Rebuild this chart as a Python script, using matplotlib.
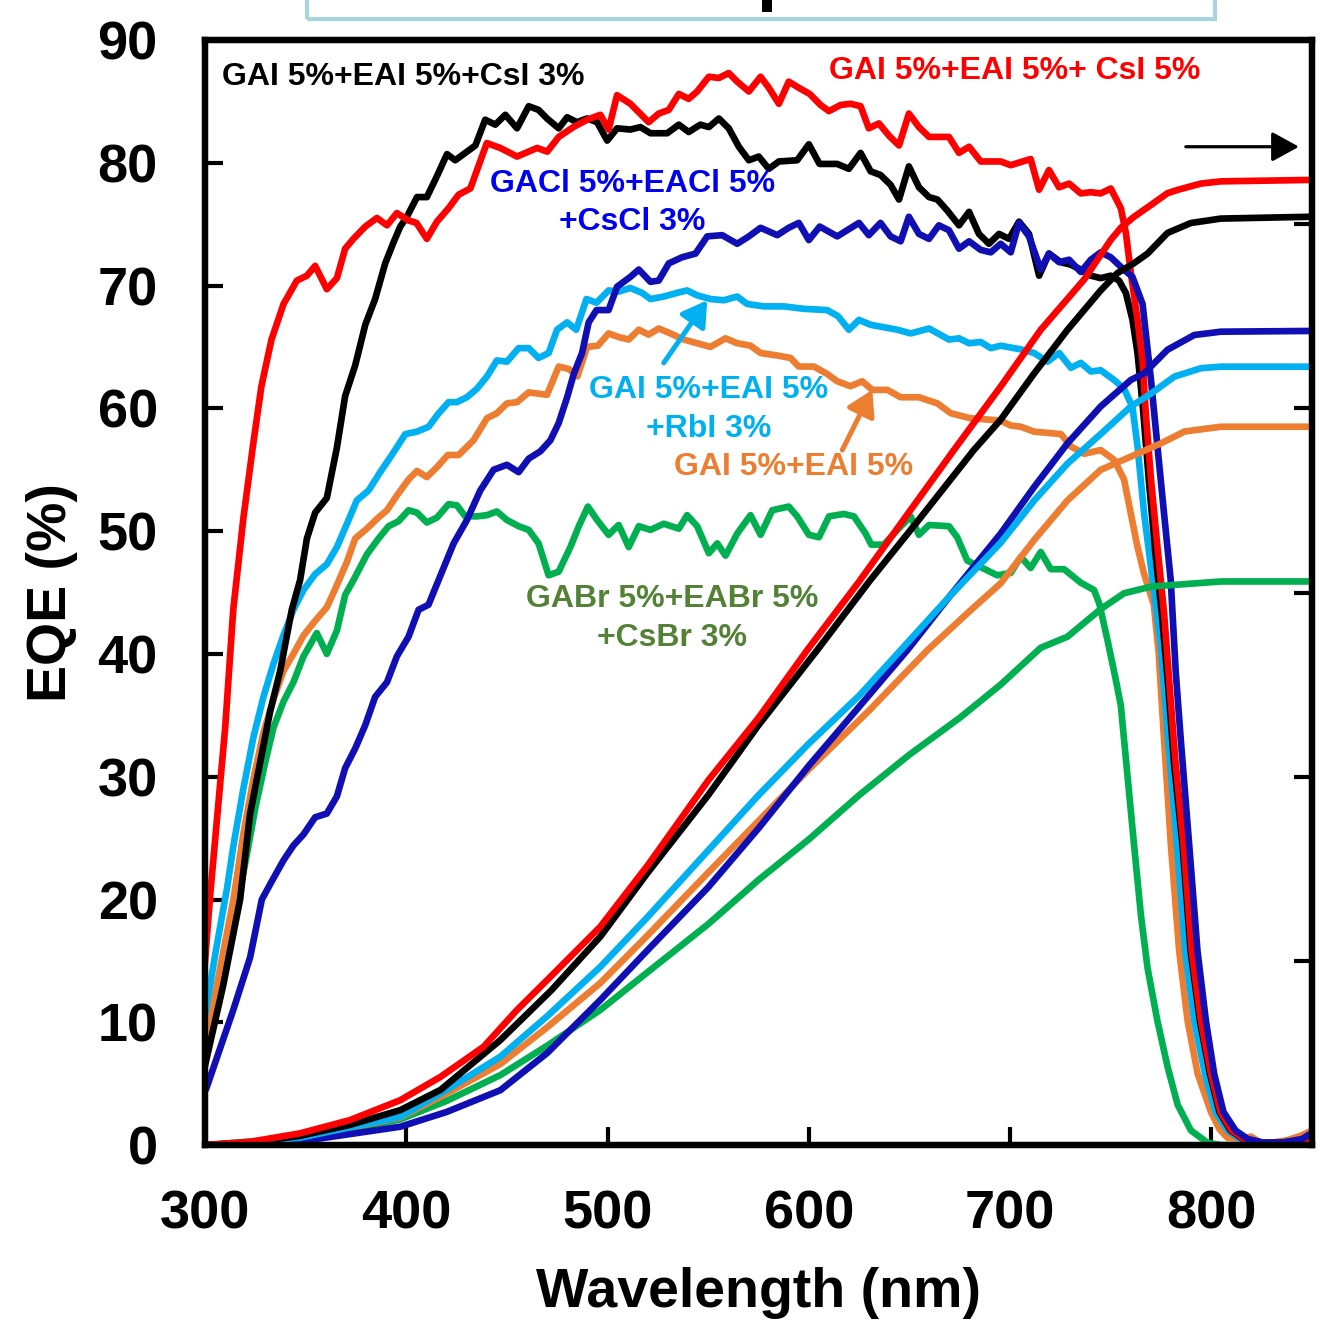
import matplotlib
matplotlib.use('Agg')
import matplotlib.pyplot as plt
from matplotlib.patches import Rectangle

plt.rcParams['font.family'] = ['Liberation Sans', 'DejaVu Sans']
plt.rcParams['font.weight'] = 'bold'

# ---------------- EQE data (wavelength nm, EQE %) ----------------
wl_red = [300, 302.5, 310, 314, 319, 324, 328, 333, 339, 345.6, 350.6, 354.7, 360.5, 365.5, 369.6, 373.7,
          379.6, 385.4, 390.4, 395.3, 401, 405, 410.2, 415.2, 421, 426, 431.8, 440, 446.7, 455, 465, 470,
          475.7, 483, 489.8, 496.4, 500.5, 504.7, 511.3, 520.4, 525.4, 530.4, 535.4, 540.3, 544.5, 550.3,
          555.3, 560.2, 564.4, 570.2, 576, 580.1, 585.1, 590, 595, 600.4, 605.8, 610, 615.8, 620.7, 625.7,
          629.8, 634.8, 639.8, 644.8, 649.7, 654.7, 659.7, 669.6, 674.6, 679.6, 685.4, 695.3, 700.3, 710.2,
          714.4, 719.3, 724.3, 729.3, 735.1, 740.1, 745, 750, 755, 757.5, 760, 763.3, 765.8, 767.4, 770,
          773.2, 776.5, 779, 782, 786.2, 790.2, 794.8, 799.8, 804.5, 810, 817, 825, 835, 845, 850]
eqe_red = [15.0, 20.3, 34.0, 43.6, 51.0, 57.2, 61.8, 65.6, 68.5, 70.4, 70.8, 71.6, 69.7, 70.6, 73.0, 73.8,
           74.8, 75.5, 74.9, 75.9, 75.3, 75.1, 73.8, 75.2, 76.3, 77.4, 77.9, 81.6, 81.2, 80.5, 81.2, 80.9,
           82.1, 82.9, 83.5, 83.9, 82.7, 85.5, 84.8, 83.3, 84.0, 84.3, 85.6, 85.2, 85.8, 87.0,
           86.9, 87.3, 86.6, 85.8, 87.0, 86.1, 84.8, 86.6, 86.1, 85.6, 84.7, 84.2, 84.7, 84.8, 84.6,
           82.8, 83.2, 82.2, 81.4, 84.0, 82.9, 82.1, 82.1, 80.8, 81.3, 80.1, 80.1, 79.8, 80.3,
           77.8, 79.4, 78.0, 78.3, 77.5, 77.6, 77.5, 77.9, 76.3, 74.3, 71.0, 67.2, 63.9, 59.6, 54.2,
           48.7, 43.3, 37.9, 31.5, 24.4, 15.8, 10.1, 5.8, 2.7, 1.2, 0.4, 0.1, 0.1, 0.2, 0.6]

wl_blk = [300, 309, 317.4, 322.4, 327.3, 332.3, 337.3, 343.1, 347.2, 350.6, 354.7, 360.5, 365.5, 369.6,
          374.6, 379.6, 384.5, 389.5, 393.6, 397, 400.3, 405.3, 410.2, 415.2, 420.2, 424.3, 429.3, 434.3,
          439.2, 444.2, 449.2, 455, 460.8, 465.7, 469.9, 475.7, 479.9, 484.8, 489.8, 494.8, 499.8, 504.7,
          511.3, 516.3, 521.3, 529.6, 535.4, 540.3, 546.1, 550.3, 555.3, 560.2, 565.2, 570.2, 575.1, 580.1,
          585.1, 594.2, 600, 605.3, 614.1, 619.9, 625.7, 630.7, 635.6, 640.6, 644.8, 649.7, 654.7, 659.7,
          663.9, 668.8, 674.6, 679.6, 684.5, 689.5, 694.5, 699.5, 704.4, 709.4, 714.4, 719.3, 725.1, 730.1,
          735.1, 740.1, 745, 750, 754.1, 757.5, 760.8, 763.3, 766, 769, 772, 775.5, 778.5, 781.5, 785.7,
          789.7, 794.3, 799.3, 804, 809.5, 816.5, 825, 835, 845, 850]
eqe_blk = [6.5, 13.0, 20.0, 27.0, 31.1, 35.3, 38.6, 43.6, 46.0, 49.4, 51.5, 52.7, 56.8, 61.0,
           63.5, 66.8, 68.9, 71.8, 73.5, 74.8, 75.6, 77.2, 77.2, 78.9, 80.7, 80.2, 80.8, 81.4,
           83.5, 83.1, 83.9, 82.8, 84.6, 84.3, 83.6, 82.8, 83.7, 83.3, 83.6, 83.3, 81.8, 82.8,
           82.7, 82.9, 82.4, 82.4, 83.1, 82.5, 83.1, 82.9, 83.6, 82.8, 81.3, 80.2, 80.5, 79.5,
           80.1, 80.2, 81.5, 79.9, 79.9, 79.5, 80.8, 79.3, 79.0, 78.2, 77.0, 79.7, 78.0, 77.2,
           77.0, 76.1, 74.9, 76.0, 74.2, 73.4, 74.2, 73.8, 75.2, 74.2, 70.8, 72.6, 71.9, 71.7,
           71.3, 70.8, 70.6, 70.8, 70.4, 69.4, 67.2, 64.5, 60.0, 54.0, 48.5, 43.0, 37.5, 31.0, 24.4,
           15.8, 10.1, 5.8, 2.7, 1.2, 0.4, 0.2, 0.2, 0.4, 0.8]

wl_dblue = [300.8, 314, 322.4, 328.2, 333.2, 339, 343.9, 348.9, 354.7, 360.5, 365.5, 369.6, 374.6, 379.6,
            384.5, 390.4, 395.3, 401.1, 406.1, 411, 416.5, 423.5, 430.1, 436.7, 443.4, 450, 455.8, 460.8,
            466.6, 471.6, 475.7, 479.9, 483.2, 487.3, 490.6, 494.5, 500.5, 504.7, 511.3, 515.5, 521.3,
            525.4, 530.4, 537, 543.7, 549.5, 556.9, 564.4, 570.2, 576, 584.3, 590, 595, 600, 605.4, 614.1,
            624.9, 629.8, 635.6, 640.6, 645.6, 649.7, 654.7, 659.7, 664.6, 669.6, 674.6, 679.6, 685.4,
            690.4, 695.3, 700.3, 704.4, 709.4, 715.2, 719.3, 724.3, 729.3, 735.1, 740.1, 745, 750, 755.8,
            760.8, 765.8, 770, 773.2, 776.5, 779.8, 782.3, 784.8, 789, 793.1, 797.3, 801.4, 806, 812, 818,
            826, 835, 845, 850]
eqe_dblue = [4.7, 11.0, 15.3, 20.0, 21.5, 23.2, 24.4, 25.3, 26.7, 27.0, 28.4, 30.7, 32.3, 34.2,
             36.5, 37.7, 39.8, 41.4, 43.6, 44.0, 46.2, 49.0, 50.9, 53.3, 55.0, 55.4, 54.8, 55.9,
             56.5, 57.4, 58.8, 60.9, 62.8, 64.5, 67.0, 68.0, 68.0, 69.9, 70.7, 71.3, 70.3,
             70.4, 71.8, 72.3, 72.6, 74.0, 74.1, 73.4, 74.0, 74.7, 74.1, 74.7, 75.1, 73.7, 74.8, 74.0,
             75.1, 74.1, 75.1, 74.0, 73.6, 75.6, 74.2, 73.8, 74.9, 74.5, 73.0, 73.6, 72.9,
             72.7, 73.4, 72.7, 75.1, 74.0, 71.3, 72.6, 71.9, 72.1, 71.1, 72.1, 72.7, 72.3, 71.4,
             70.7, 68.5, 62.3, 56.9, 51.4, 46.0, 38.5, 33.0, 24.4, 15.8, 10.1, 5.8, 2.7, 1.2, 0.5,
             0.2, 0.2, 0.5, 1.0]

wl_lblue = [300, 305, 311, 314.1, 319, 324, 329, 334, 338.9, 343.9, 348.9, 354.7, 360.5, 365.5, 370.5,
            375.4, 381.2, 387, 392.8, 399.5, 405.3, 411.1, 415.6, 421, 425.1, 430.1, 435.1, 440.1, 445, 450,
            455.8, 460.8, 465.7, 470.7, 474.9, 479.9, 484.4, 489.5, 494.5, 500.5, 505.5, 511.3, 517.1, 521.3,
            527.9, 534.5, 539.5, 544.5, 551.1, 557.7, 564.4, 569.3, 577.6, 587.6, 597.5, 609.1, 614.5, 619.9,
            624.9, 630.7, 637.3, 643.9, 650.6, 659.7, 669.6, 674.6, 679.6, 685.4, 690.4, 695.3, 705.3, 711.9,
            718.6, 724.4, 730.2, 735.1, 740.1, 745, 751.7, 756.6, 760.8, 763.3, 766.6, 770.8, 774.9, 778.5,
            782.9, 787, 791.5, 796.8, 802, 808, 815, 825, 835, 845, 850]
eqe_lblue = [10.5, 15.5, 21.0, 24.4, 29.0, 33.2, 36.5, 39.2, 41.5, 43.6, 45.2, 46.5, 47.3, 48.7, 50.6,
             52.5, 53.3, 54.8, 56.2, 57.9, 58.1, 58.5, 59.5, 60.5, 60.5, 60.9, 61.6, 62.6, 63.9, 63.8,
             64.9, 64.9, 64.1, 64.5, 66.4, 67.0, 66.4, 68.9, 68.6, 69.6, 69.5, 69.8, 69.4, 68.9,
             69.1, 69.4, 69.6, 69.2, 68.9, 68.8, 69.1, 68.5, 68.3, 68.3, 68.1, 68.0, 67.5, 66.4,
             67.2, 66.8, 66.6, 66.4, 66.1, 66.5, 65.6, 65.7, 65.3, 65.4, 64.9, 65.1, 64.8, 64.5,
             63.8, 64.5, 63.3, 63.7, 63.0, 63.1, 62.3, 61.6, 60.1, 56.9, 51.4, 46.0, 40.6, 33.0,
             24.4, 15.8, 10.1, 5.8, 2.7, 1.2, 0.4, 0.1, 0.1, 0.3, 0.7]

wl_orange = [300, 307, 314.1, 319, 324, 329, 334, 338.9, 343.9, 348.9, 354.7, 360.5, 365.5, 370.5, 374.6,
             380.4, 385.4, 390.4, 395.3, 401.1, 405.3, 410.2, 415.2, 420.6, 426, 433.4, 440.1, 445, 450, 455,
             460.8, 469.9, 475.7, 480.7, 485, 489.8, 495.2, 500.5, 505.5, 510.5, 515.5, 520.4, 525.4, 531.2,
             537.8, 544.5, 551.1, 558.6, 564.4, 571, 576, 584.3, 590.9, 595, 602.5, 609.1, 614.1, 620.7,
             626.5, 631.5, 639, 645.6, 654.7, 663.9, 670.5, 680, 695.3, 700.3, 705.3, 711.9, 725.3, 730.1,
             736.8, 745, 751.7, 756.6, 760, 763.3, 766.6, 771.4, 773.8, 776.5, 779.9, 784, 788.2, 793.2,
             799.8, 804, 808, 814, 819.6, 824.5, 830, 837.8, 845, 850]
eqe_orange = [7.8, 14.0, 20.0, 25.3, 29.8, 33.6, 36.3, 38.6, 40.0, 41.5, 42.7, 43.8, 45.6, 47.5, 49.4,
              50.2, 51.0, 51.7, 52.9, 54.2, 54.9, 54.4, 55.2, 56.2, 56.2, 57.4, 59.2, 59.6, 60.4, 60.5,
              61.3, 61.1, 63.4, 63.2, 62.6, 65.0, 65.1, 66.1, 65.8, 65.6, 66.4, 66.0, 66.5, 66.1,
              65.6, 65.3, 65.0, 65.7, 65.3, 65.1, 64.5, 64.3, 64.1, 63.4, 63.4, 62.8, 62.2, 61.8,
              62.2, 61.5, 61.5, 60.9, 60.9, 60.4, 59.6, 59.2, 59.0, 58.6, 58.5, 58.1, 57.9, 56.9,
              56.3, 56.6, 55.8, 54.2, 51.4, 48.7, 46.5, 44.0, 40.1, 33.0, 24.4, 15.8, 10.1, 5.8,
              2.7, 1.3, 0.6, 0.5, 0.7, 0.2, 0.2, 0.4, 0.8, 1.2]

wl_green = [300, 308, 316.5, 320.7, 324.9, 329.8, 334, 338.9, 343.9, 348.9, 355.5, 360.5, 365.5, 369.6,
            373.7, 380.4, 386.2, 391.2, 396.1, 401.1, 405.3, 410.2, 415.2, 421, 425.1, 429.3, 435.1, 440.1,
            445, 450, 455.8, 460.8, 465.7, 470.7, 475.7, 481.5, 485.7, 490.2, 494.8, 500.5, 505.5, 510.5,
            515.5, 521.3, 527.9, 535.4, 539.5, 544.5, 550.3, 554.5, 558.6, 564.4, 571, 576, 581.8, 590,
            594.2, 600, 605, 610, 617.4, 622.4, 628.2, 631, 637.3, 644, 650.6, 654.7, 659.7, 669.6, 673.7,
            678.7, 686.2, 693.6, 700.3, 705.3, 710.2, 715.2, 720.2, 726.8, 735.1, 741.7, 744.3, 748.4,
            752.5, 755, 758.3, 761.6, 765, 768.3, 773.2, 778.2, 783.2, 789.8, 798, 805, 850]
eqe_green = [7.5, 13.5, 20.0, 23.6, 27.4, 31.1, 34.0, 36.1, 37.7, 39.8, 41.7, 40.0, 41.9, 44.8,
             46.0, 48.1, 49.4, 50.4, 50.8, 51.7, 51.5, 50.7, 51.1, 52.2, 52.1, 51.2, 51.2, 51.3,
             51.6, 50.9, 50.4, 50.1, 49.0, 46.4, 46.7, 48.7, 50.4, 52.0, 50.9, 49.7, 50.5, 48.7,
             50.4, 50.1, 50.6, 50.2, 51.3, 50.4, 48.2, 49.0, 48.0, 49.8, 51.3, 49.7, 51.7, 52.0,
             51.2, 49.7, 49.5, 51.2, 51.4, 51.2, 49.8, 48.9, 48.9, 50.1, 51.2, 49.7, 50.5, 50.4, 49.5,
             47.6, 47.0, 46.4, 46.6, 47.9, 47.0, 48.3, 46.9, 46.9, 45.8, 45.2, 44.1, 41.1,
             37.9, 35.8, 30.1, 24.4, 18.7, 14.4, 10.1, 6.4, 3.3, 1.2, 0.2, 0.0, 0.0]

# ---------------- integrated current (mA/cm2, right axis) ----------------
wlj_red = [300, 322.4, 347.2, 372, 397, 416.9, 438.4, 455, 471.6, 496.4, 520, 550, 575, 599.2, 625, 650,
           672.1, 695.3, 715.2, 736.7, 750, 755, 761.6, 770, 778.2, 783.3, 794.8, 804.7, 850]
j_red = [0, 0.09, 0.32, 0.68, 1.22, 1.85, 2.67, 3.67, 4.57, 5.93, 7.6, 9.9, 11.6, 13.44, 15.3, 17.2,
         18.87, 20.59, 22.13, 23.49, 24.57, 24.9, 25.2, 25.52, 25.84, 25.93, 26.1, 26.16, 26.2]
wlj_blk = [300, 322, 347, 372, 397, 417, 446.7, 472, 496.4, 520, 550, 575, 604.2, 630, 655, 682, 695.3,
           712, 728.5, 745, 753.3, 761.6, 768.3, 778.2, 789.8, 804.7, 850]
j_blk = [0, 0.07, 0.25, 0.55, 0.95, 1.5, 2.85, 4.2, 5.66, 7.4, 9.5, 11.4, 13.44, 15.3, 17.0, 18.87, 19.69,
         20.95, 22.13, 23.2, 23.67, 23.94, 24.2, 24.76, 25.03, 25.15, 25.2]
wlj_dblue = [300, 347, 397, 420, 446.7, 470, 496.4, 520, 550, 575, 600, 625, 649, 670, 695.3, 712, 728.5,
             745, 760, 766.6, 778.2, 791.5, 804.7, 850]
j_dblue = [0, 0.1, 0.5, 0.9, 1.49, 2.5, 3.94, 5.3, 7.0, 8.6, 10.3, 11.9, 13.44, 14.9, 16.6, 17.87, 19.05,
           20.05, 20.77, 20.95, 21.59, 21.99, 22.08, 22.1]
wlj_lblue = [300, 347, 397, 420, 446.7, 470, 496.4, 520, 550, 575, 600, 625, 645.7, 670, 695.3, 712,
             728.5, 745, 760, 770, 781.6, 794.9, 804.7, 850]
j_lblue = [0, 0.2, 0.77, 1.5, 2.4, 3.5, 4.84, 6.2, 8.0, 9.5, 10.9, 12.2, 13.44, 14.9, 16.35, 17.5, 18.5,
           19.3, 20.05, 20.4, 20.86, 21.09, 21.13, 21.13]
wlj_orange = [300, 347, 397, 420, 446.7, 470, 496.4, 520, 550, 575, 600, 630, 659, 680, 695.3, 712, 728.5,
              745, 760, 775, 786.6, 804.7, 850]
j_orange = [0, 0.2, 0.75, 1.4, 2.2, 3.2, 4.4, 5.7, 7.4, 8.8, 10.2, 11.8, 13.44, 14.5, 15.25, 16.43, 17.5,
            18.33, 18.69, 19.05, 19.37, 19.5, 19.5]
wlj_green = [300, 347, 397, 420, 446.7, 470, 496.4, 520, 550, 575, 600, 625, 650, 675, 695.3, 715.2,
             728.5, 745, 756.6, 770, 804.7, 850]
j_green = [0, 0.15, 0.7, 1.2, 1.9, 2.7, 3.67, 4.7, 6.0, 7.2, 8.3, 9.5, 10.6, 11.6, 12.5, 13.5, 13.8,
           14.55, 14.98, 15.16, 15.3, 15.3]

c_red = '#FF0000'
c_blk = '#000000'
c_dblue = '#0F0FB4'
c_lblue = '#00B0F0'
c_orange = '#ED7D31'
c_green = '#00B050'
lw = 4.8

fig = plt.figure(figsize=(13.23, 13.30), dpi=100)
ax = fig.add_axes([0.155, 0.139, 0.8367, 0.831])

ax.plot(wl_green, eqe_green, color=c_green, lw=lw, zorder=3)
ax.plot(wl_orange, eqe_orange, color=c_orange, lw=lw, zorder=3)
ax.plot(wl_lblue, eqe_lblue, color=c_lblue, lw=lw, zorder=3)
ax.plot(wl_blk, eqe_blk, color=c_blk, lw=lw, zorder=3)
ax.plot(wl_red, eqe_red, color=c_red, lw=lw, zorder=3)
ax.plot(wl_dblue, eqe_dblue, color=c_dblue, lw=lw, zorder=3)

ax.set_xlim(300, 850)
ax.set_ylim(0, 90)
ax.set_xticks([300, 400, 500, 600, 700, 800])
ax.set_yticks(range(0, 91, 10))
ax.tick_params(direction='in', length=13, width=3, labelsize=39, pad=32, right=False, top=False)
ax.tick_params(axis='y', pad=34)
for s in ax.spines.values():
    s.set_linewidth(4.5)
ax.set_xlabel('Wavelength (nm)', fontsize=40, fontweight='bold', labelpad=20)
ax.set_ylabel('EQE (%)', fontsize=40, fontweight='bold', labelpad=14)

ax2 = ax.twinx()
ax2.plot(wlj_green, j_green, color=c_green, lw=lw)
ax2.plot(wlj_orange, j_orange, color=c_orange, lw=lw)
ax2.plot(wlj_dblue, j_dblue, color=c_dblue, lw=lw)
ax2.plot(wlj_lblue, j_lblue, color=c_lblue, lw=lw)
ax2.plot(wlj_blk, j_blk, color=c_blk, lw=lw)
ax2.plot(wlj_red, j_red, color=c_red, lw=lw)
ax2.set_ylim(0, 30)
ax2.set_yticks(range(0, 31, 5))
ax2.tick_params(direction='in', length=13, width=3, labelright=False)
for s in ax2.spines.values():
    s.set_linewidth(4.5)

fs = 23
ax.text(308.5, 87.0, 'GAI 5%+EAI 5%+CsI 3%', color=c_blk, fontsize=fs, fontweight='bold', va='center')
ax.text(609.8, 87.5, 'GAI 5%+EAI 5%+ CsI 5%', color=c_red, fontsize=fs, fontweight='bold', va='center')
ax.text(512.3, 78.3, 'GACl 5%+EACl 5%', color='#0000F0', fontsize=fs, fontweight='bold',
        ha='center', va='center')
ax.text(512.3, 75.2, '+CsCl 3%', color='#0000F0', fontsize=fs, fontweight='bold', ha='center', va='center')
ax.text(550.1, 61.5, 'GAI 5%+EAI 5%', color=c_lblue, fontsize=fs, fontweight='bold', ha='center', va='center')
ax.text(550.1, 58.35, '+RbI 3%', color=c_lblue, fontsize=fs, fontweight='bold', ha='center', va='center')
ax.text(592.4, 55.2, 'GAI 5%+EAI 5%', color=c_orange, fontsize=fs, fontweight='bold', ha='center', va='center')
ax.text(532.0, 44.5, 'GABr 5%+EABr 5%', color='#538135', fontsize=fs, fontweight='bold',
        ha='center', va='center')
ax.text(532.0, 41.3, '+CsBr 3%', color='#538135', fontsize=fs, fontweight='bold', ha='center', va='center')

ax.annotate('', xy=(549.5, 68.8), xytext=(527.9, 63.7),
            arrowprops=dict(arrowstyle='-|>,head_length=1.0,head_width=0.6', mutation_scale=15,
                            color=c_lblue, lw=3.6, shrinkA=0, shrinkB=0), zorder=5)
ax.annotate('', xy=(631.5, 61.5), xytext=(616.6, 56.6),
            arrowprops=dict(arrowstyle='-|>,head_length=1.0,head_width=0.6', mutation_scale=15,
                            color=c_orange, lw=3.6, shrinkA=0, shrinkB=0), zorder=5)
ax.annotate('', xy=(843.5, 81.3), xytext=(787.3, 81.3),
            arrowprops=dict(arrowstyle='-|>,head_length=1.0,head_width=0.55', mutation_scale=16.5,
                            color='black', lw=2.3, shrinkA=0, shrinkB=0), zorder=5)

# cropped title box at the top of the figure
fig.patches.append(Rectangle((307 / 1323, 1 - 19 / 1330), 908 / 1323, 0.05, transform=fig.transFigure,
                             fill=False, edgecolor='#A8D4E2', lw=3))
fig.patches.append(Rectangle((762 / 1323, 1 - 12 / 1330), 10 / 1323, 12 / 1330, transform=fig.transFigure,
                             facecolor='black', edgecolor='none'))

fig.savefig('out.png', dpi=100)
